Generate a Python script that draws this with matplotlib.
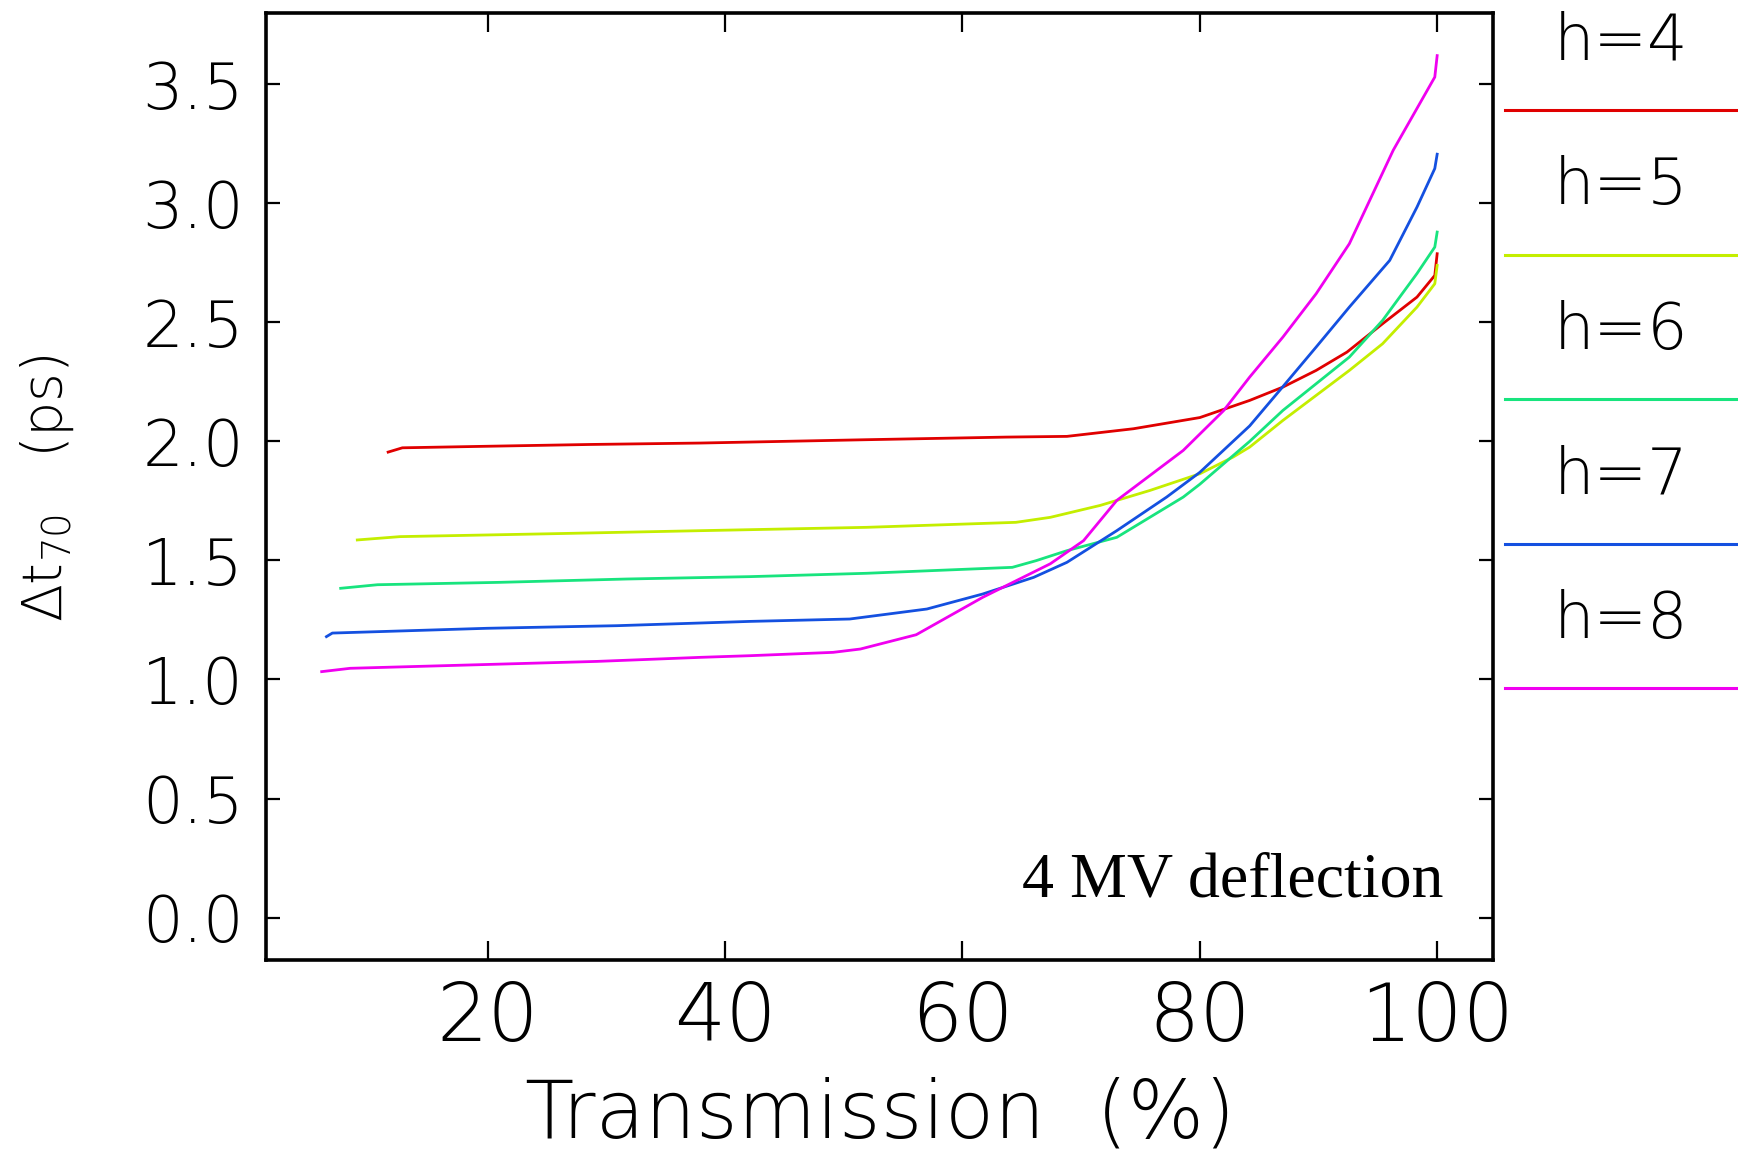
import matplotlib
matplotlib.use("Agg")
import matplotlib.pyplot as plt
from matplotlib.lines import Line2D

# ------------------------------------------------------------
# Data (transmission %, delta t70 in ps)
# ------------------------------------------------------------
x_h4 = [11.6, 12.8, 19.4, 28.6, 37.9, 51.9, 63.7, 68.8, 74.4, 80.0, 84.2,
        87.0, 89.8, 92.4, 95.4, 98.3, 99.8, 100.0]
y_h4 = [1.955, 1.973, 1.979, 1.987, 1.993, 2.007, 2.018, 2.021, 2.053, 2.10,
        2.172, 2.228, 2.298, 2.375, 2.494, 2.606, 2.697, 2.788]

x_h5 = [9.0, 12.6, 25.2, 37.9, 51.9, 64.5, 67.4, 71.6, 75.8, 80.0, 82.8,
        84.2, 87.0, 89.8, 92.6, 95.4, 98.3, 99.8, 100.0]
y_h5 = [1.586, 1.600, 1.612, 1.625, 1.639, 1.660, 1.681, 1.731, 1.794, 1.864,
        1.934, 1.976, 2.088, 2.193, 2.298, 2.41, 2.564, 2.662, 2.739]

x_h6 = [7.6, 10.7, 21.0, 31.7, 42.1, 51.9, 64.2, 66.2, 68.8, 73.0, 78.6,
        80.0, 84.2, 87.0, 89.8, 92.6, 95.4, 98.3, 99.8, 100.0]
y_h6 = [1.383, 1.398, 1.408, 1.422, 1.432, 1.446, 1.471, 1.499, 1.541, 1.597,
        1.766, 1.82, 2.0, 2.13, 2.242, 2.354, 2.508, 2.705, 2.816, 2.879]

x_h7 = [6.4, 6.9, 10.8, 19.9, 30.9, 42.1, 50.5, 57.0, 61.7, 66.0, 68.8,
        73.0, 77.2, 80.0, 84.2, 87.0, 89.8, 92.6, 96.0, 98.3, 99.8, 100.0]
y_h7 = [1.18, 1.195, 1.201, 1.215, 1.226, 1.244, 1.254, 1.296, 1.359, 1.429,
        1.492, 1.625, 1.766, 1.87, 2.065, 2.23, 2.396, 2.564, 2.76, 2.984,
        3.146, 3.206]

x_h8 = [6.0, 8.4, 16.3, 29.2, 37.9, 42.1, 49.1, 51.4, 56.1, 61.7, 67.4,
        70.2, 73.0, 78.6, 82.0, 84.2, 87.0, 89.8, 92.6, 96.3, 99.8, 100.0]
y_h8 = [1.033, 1.047, 1.058, 1.076, 1.093, 1.10, 1.114, 1.128, 1.188, 1.345,
        1.486, 1.583, 1.752, 1.962, 2.129, 2.27, 2.438, 2.62, 2.83, 3.223,
        3.53, 3.62]

labels = ["h=4", "h=5", "h=6", "h=7", "h=8"]
colors = ["#e00000", "#c4ee00", "#18e47e", "#1450e0", "#f000f0"]

x_ticks = [20, 40, 60, 80, 100]
y_ticks = [0.0, 0.5, 1.0, 1.5, 2.0, 2.5, 3.0, 3.5]


def main():
    plt.rcParams["font.family"] = ["DejaVu Sans"]
    plt.rcParams["font.weight"] = "light"
    plt.rcParams["mathtext.fontset"] = "custom"
    plt.rcParams["mathtext.rm"] = "DejaVu Sans:light"
    plt.rcParams["mathtext.default"] = "rm"

    fig = plt.figure(figsize=(17.38, 11.60), dpi=100)
    ax = fig.add_axes([0.153, 0.172, 0.706, 0.817])

    series = [(x_h4, y_h4), (x_h5, y_h5), (x_h6, y_h6), (x_h7, y_h7), (x_h8, y_h8)]
    for (xs, ys), c in zip(series, colors):
        ax.plot(xs, ys, color=c, linewidth=2.0)

    ax.set_xlim(1.3, 104.7)
    ax.set_ylim(-0.18, 3.80)

    ax.set_xticks(x_ticks)
    ax.set_xticklabels([str(v) for v in x_ticks], fontsize=58, fontweight="light")
    ax.set_yticks(y_ticks)
    ax.set_yticklabels([f"{v:.1f}" for v in y_ticks], fontsize=46, fontweight="light")

    ax.tick_params(axis="x", direction="in", length=14, width=1.6,
                   top=True, pad=14)
    ax.tick_params(axis="y", direction="in", length=10, width=1.6,
                   right=True, pad=16)
    for s in ax.spines.values():
        s.set_linewidth(2.6)

    ax.set_xlabel("Transmission  (%)", fontsize=58, fontweight="light")
    ax.xaxis.label.set_va("center")
    ax.xaxis.set_label_coords(0.501, -0.163)

    ax.set_ylabel("Δt$_{70}$   (ps)", fontsize=40, fontweight="light")
    ax.yaxis.label.set_va("center")
    ax.yaxis.set_label_coords(-0.178, 0.498)

    ax.text(100.55, 0.15, "4 MV deflection", ha="right", va="center",
            fontsize=46, family="Liberation Serif", fontweight="normal")

    # legend drawn outside at the right: label above a coloured line
    W, H = 1738.0, 1160.0
    for i, (lab, c) in enumerate(zip(labels, colors)):
        ty = 1 - (42 + i * 144.5) / H
        ly = 1 - (110 + i * 144.5) / H
        fig.text(1621 / W, ty, lab, ha="center", va="center",
                 fontsize=46, fontweight="light")
        fig.add_artist(Line2D([1505 / W, 1.0], [ly, ly], color=c,
                              linewidth=2.2, transform=fig.transFigure))

    fig.savefig("out.png", dpi=100)
    plt.close(fig)


if __name__ == "__main__":
    main()
